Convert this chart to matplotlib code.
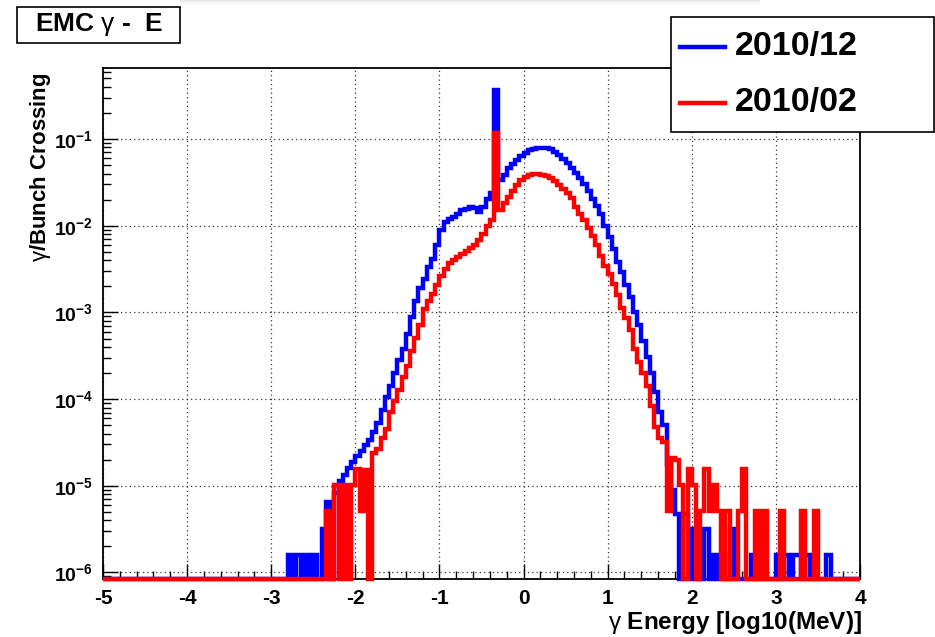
import numpy as np
import matplotlib.pyplot as plt
from matplotlib.patches import Rectangle
from matplotlib.lines import Line2D

plt.rcParams['font.family'] = ['Liberation Sans', 'DejaVu Sans']
plt.rcParams['mathtext.fontset'] = 'custom'
plt.rcParams['mathtext.rm'] = 'Liberation Sans'
plt.rcParams['mathtext.bf'] = 'Liberation Sans:bold'
plt.rcParams['mathtext.it'] = 'Liberation Sans:italic'

# histogram binning: log10(E/MeV) from -5 to 4
bin_width = 0.05
n_bins = 180
ymin, ymax = 10 ** -6.075, 10 ** -0.181

# log10(gamma / bunch crossing) per bin, None = empty bin
dec_start = -2.80
dec_log = [
    -5.80, None, -5.80, None, -5.80, None, -5.80, None,
    -5.50, -5.19, None, -5.08, -4.95, -4.88, -4.80, -4.72,
    -4.66, -4.60, -4.53, -4.47, -4.38, -4.28, -4.12, -3.98,
    -3.85, -3.70, -3.55, -3.42, -3.25, -3.05, -2.87, -2.72,
    -2.62, -2.48, -2.38, -2.22, -2.05, -1.96, -1.92, -1.90,
    -1.86, -1.82, -1.81, -1.79, -1.80, -1.84, -1.78, -1.69,
    -1.62, -0.44, -1.47, -1.41, -1.34, -1.29, -1.24, -1.20,
    -1.16, -1.13, -1.11, -1.10, -1.10, -1.10, -1.12, -1.15,
    -1.19, -1.23, -1.28, -1.34, -1.39, -1.45, -1.52, -1.60,
    -1.69, -1.77, -1.87, -2.00, -2.13, -2.27, -2.42, -2.53,
    -2.68, -2.82, -3.00, -3.15, -3.33, -3.52, -3.70, -3.92,
    -4.15, -4.30, -4.75, -5.05, -5.32, None, -5.32, -5.50,
    None, -5.80, None, -5.50, None, -5.80, None, -5.80,
    None, -5.50, None, None, None, None, -5.80, None,
    None, None, None, None, -5.80, None, -5.80, None,
    -5.80, -5.80, None, -5.80, None, None, None, None,
    -5.80,
]

feb_start = -2.40
feb_log = [
    None, -5.29, None, -4.99, None, -4.99, None, -4.99,
    -4.81, -5.29, -4.82, None, -4.62, -4.57, -4.45, -4.35,
    -4.15, -4.02, -3.90, -3.75, -3.62, -3.45, -3.30, -3.15,
    -2.96, -2.87, -2.79, -2.68, -2.58, -2.50, -2.43, -2.40,
    -2.36, -2.33, -2.29, -2.26, -2.22, -2.17, -2.10, -2.00,
    -1.93, -0.93, -1.82, -1.74, -1.67, -1.60, -1.53, -1.47,
    -1.44, -1.41, -1.40, -1.40, -1.41, -1.43, -1.45, -1.48,
    -1.53, -1.58, -1.62, -1.68, -1.78, -1.86, -1.93, -2.03,
    -2.12, -2.22, -2.35, -2.47, -2.56, -2.67, -2.80, -2.95,
    -3.07, -3.20, -3.42, -3.57, -3.70, -3.85, -4.08, -4.32,
    -4.45, -4.50, -5.29, -4.68, -4.70, -4.99, None, -4.81,
    -4.99, None, -5.29, -4.81, -5.29, -4.99, -5.29, None,
    -5.29, None, None, -5.29, -4.81, None, None, -5.29,
    None, -5.29, None, None, None, -5.29, None, None,
    None, None, -5.29, None, None, -5.29,
]

series = [('2010/12', dec_start, dec_log, '#0000ff'),
          ('2010/02', feb_start, feb_log, '#ff0000')]

x_ticks = [-5, -4, -3, -2, -1, 0, 1, 2, 3, 4]
y_decades = [-6, -5, -4, -3, -2, -1]


def to_hist(start, logs):
    # empty bins sit on the axis minimum, like ROOT does on a log scale
    vals = np.full(n_bins, ymin)
    i0 = int(round((start + 5) / bin_width))
    for i, v in enumerate(logs):
        if v is not None:
            vals[i0 + i] = 10 ** v
    return vals


edges = np.linspace(-5, 4, n_bins + 1)

fig = plt.figure(figsize=(9.35, 6.37), dpi=100)

# faint window shadow along the top edge
for j, a in enumerate([0.10, 0.07, 0.045, 0.025, 0.012]):
    fig.patches.append(Rectangle((180 / 935, 1 - (j + 1) / 637), 580 / 935, 1 / 637,
                                 transform=fig.transFigure, fc='black', ec='none',
                                 alpha=a))

ax = fig.add_axes([103 / 935, 58 / 637, 757 / 935, 511 / 637])

for name, start, logs, col in series:
    ax.stairs(to_hist(start, logs), edges, color=col, lw=3.2,
              baseline=None, clip_on=False, zorder=3)

ax.set_yscale('log')
ax.set_xlim(-5, 4)
ax.set_ylim(ymin, ymax)

ax.set_xticks(x_ticks, labels=[str(t) for t in x_ticks])
ax.set_xticks(np.arange(-5, 4.01, 0.2), minor=True)
ax.set_yticks([10.0 ** d for d in y_decades],
              labels=['$\\mathbf{10^{%d}}$' % d for d in y_decades])
ax.yaxis.set_minor_locator(plt.LogLocator(base=10, subs=np.arange(2, 10)))
ax.yaxis.set_minor_formatter(plt.NullFormatter())

ax.tick_params(which='both', direction='in', top=False, right=False, width=1)
ax.tick_params(which='major', length=11)
ax.tick_params(which='minor', length=6)
ax.tick_params(axis='x', labelsize=15, pad=7)
ax.tick_params(axis='y', labelsize=14, pad=7)
for lab in ax.get_xticklabels():
    lab.set_fontweight('bold')

ax.grid(which='major', color='#333333', lw=0.9, linestyle=(0, (1, 2.5)))
for sp in ax.spines.values():
    sp.set_linewidth(1.3)

fig.text(862 / 935, 1 - 622 / 637, '$\\mathrm{\\gamma}$ Energy [log10(MeV)]',
         ha='right', va='center', fontsize=17.5, fontweight='bold')
fig.text(41 / 935, 1 - 72 / 637, '$\\mathrm{\\gamma}$/Bunch Crossing',
         rotation=90, ha='center', va='top', fontsize=16, fontweight='bold')

# title box
fig.patches.append(Rectangle((17 / 935, 1 - 43 / 637), 163 / 935, 36 / 637,
                             transform=fig.transFigure, fc='white', ec='black',
                             lw=1.2))
fig.text(99 / 935, 1 - 25 / 637, 'EMC $\\mathrm{\\gamma}$ -  E',
         ha='center', va='center', fontsize=19, fontweight='bold')

# legend box
fig.patches.append(Rectangle((671 / 935, 1 - 132 / 637), 263 / 935, 115 / 637,
                             transform=fig.transFigure, fc='white', ec='black',
                             lw=1.2, zorder=5))
for k, (name, start, logs, col) in enumerate(series):
    yy = 1 - (47 + 56 * k) / 637
    fig.lines.append(Line2D([680 / 935, 725 / 935], [yy, yy], color=col, lw=3.2,
                            transform=fig.transFigure, zorder=6))
    fig.text(735 / 935, yy, name, ha='left', va='center', fontsize=24.5,
             fontweight='bold', zorder=6)

fig.savefig('out.png', dpi=100)
